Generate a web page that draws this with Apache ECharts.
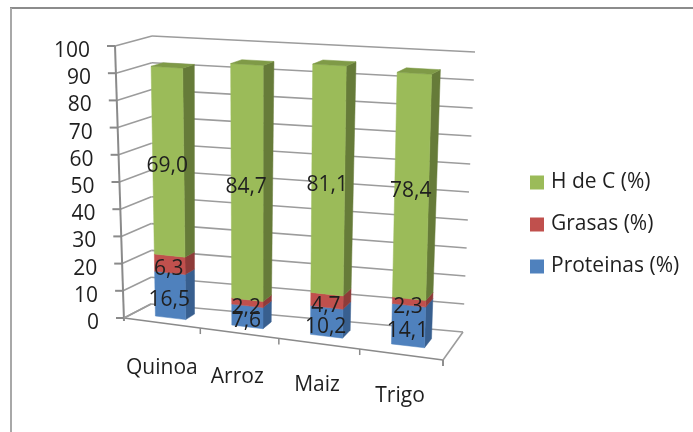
<!DOCTYPE html>
<html>
<head>
<meta charset="utf-8">
<style>html,body{margin:0;padding:0;background:#fff}#chart{width:693px;height:432px}</style>
<script src="https://cdn.jsdelivr.net/npm/echarts@6/dist/echarts.min.js"></script>
</head>
<body>
<div id="chart"></div>
<script>
// Composition of grains, drawn as 3D stacked columns.
const categories = ['Quinoa', 'Arroz', 'Maiz', 'Trigo'];
const proteinas = [16.5, 7.6, 10.2, 14.1];
const grasas = [6.3, 2.2, 4.7, 2.3];
const hidratos = [69.0, 84.7, 81.1, 78.4];
const yTicks = [0, 10, 20, 30, 40, 50, 60, 70, 80, 90, 100];

const FONT = '21px "Open Sans"';
const TEXT = '#1f1f1f';
const AXIS = '#8a8a8a';
const WALL = '#9c9c9c';

// Plot rectangle handed to ECharts; its pixels are re-projected onto the 3D box.
const L = 124, T = 46, W = 319, H = 272;
// Box corners as [x, y]: f/b = front/back, l/r = left/right, 0/1 = floor/ceiling.
const box = {
  fl0: [124, 318], fr0: [443, 360], fl1: [115, 46], fr1: [450, 65],
  bl0: [151, 304], br0: [463, 332], bl1: [152, 36], br1: [475, 52]
};
const mix = (a, b, k) => [a[0] + (b[0] - a[0]) * k, a[1] + (b[1] - a[1]) * k];

// Maps a plot pixel plus a depth (0 front, 1 back) to the screen.
function project(p, depth) {
  const u0 = (p[0] - L) / W;
  const u = u0 / (u0 + 1.06 * (1 - u0)); // perspective foreshortening along the floor
  const t = (T + H - p[1]) / H;
  const f = mix(mix(box.fl0, box.fr0, u), mix(box.fl1, box.fr1, u), t);
  const b = mix(mix(box.bl0, box.br0, u), mix(box.bl1, box.br1, u), t);
  return mix(f, b, depth);
}

const line = (a, b, color, width) => ({
  type: 'line',
  shape: { x1: a[0], y1: a[1], x2: b[0], y2: b[1] },
  style: { stroke: color, lineWidth: width }
});
const poly = (points, fill) => ({
  type: 'polygon',
  shape: { points },
  style: { fill, stroke: fill, lineWidth: 0.5 }
});
const label = (text, x, y, align) => ({
  type: 'text',
  z2: 50,
  style: { text, x, y, fill: TEXT, font: FONT, align: align || 'center', verticalAlign: 'middle' }
});

// Value axis: ticks, labels and gridlines on the left and back walls.
function renderValueTick(params, api) {
  const c = api.coord([0, api.value(1)]);
  const edge = [L, c[1]];
  const right = [L + W, c[1]];
  const front = project(edge, 0);
  const corner = project(edge, 1);
  const end = project(right, 1);
  return {
    type: 'group',
    children: [
      line(front, corner, WALL, 1.6),
      line(corner, end, WALL, 1.6),
      line([front[0] - 8, front[1]], front, AXIS, 2),
      label(String(api.value(1)), front[0] - 25, front[1] + 5, 'right')
    ]
  };
}

// Category axis: boundary ticks along the floor and the category names.
const categoryOffsets = [[0, 45], [-2, 44], [-2, 41], [-1, 42]];
function renderCategory(params, api) {
  const i = params.dataIndex;
  const c = api.coord([i, 0]);
  const band = api.size([1, 0])[0];
  const a = project([c[0] + band / 2, c[1]], 0);
  const children = [line(a, [a[0], a[1] + 6], AXIS, 1.5)];
  const mid = project(c, 0);
  children.push(label(categories[i], mid[0] + categoryOffsets[i][0], mid[1] + categoryOffsets[i][1]));
  return { type: 'group', children };
}

// Outline of the floor and the main axis line.
function renderFrame(params, api) {
  const o = api.coord([0, 0]);
  const top = api.coord([0, 100]);
  const bottom = o[1];
  const fl = project([L, bottom], 0);
  const fr = project([L + W, bottom], 0);
  const br = project([L + W, bottom], 1);
  return {
    type: 'group',
    children: [
      line(project([L, top[1]], 0), [fl[0], fl[1] + 3], AXIS, 2),
      line(fl, fr, AXIS, 1.6),
      line(fr, [fr[0], fr[1] + 6], AXIS, 1.6),
      line(fr, br, WALL, 1.6),
      line(fl, project([L, bottom], 1), WALL, 1.6)
    ]
  };
}

const DEPTH_FRONT = 0.33, DEPTH_BACK = 0.67;

// One stacked block of a column: front, side and, on the last block, the lid.
function blockRenderer(bases, sideColor, topColor) {
  return function (params, api) {
    const i = params.dataIndex;
    const base = bases[i];
    const value = api.value(1);
    const half = api.size([1, 0])[0] * 0.2;
    const p0 = api.coord([i, base]);
    const p1 = api.coord([i, base + value]);
    const pm = api.coord([i, base + value / 2]);
    const at = (p, dx, d) => project([p[0] + dx, p[1]], d);
    const children = [
      poly([at(p0, half, DEPTH_FRONT), at(p0, half, DEPTH_BACK), at(p1, half, DEPTH_BACK), at(p1, half, DEPTH_FRONT)], sideColor),
      poly([at(p0, -half, DEPTH_FRONT), at(p0, half, DEPTH_FRONT), at(p1, half, DEPTH_FRONT), at(p1, -half, DEPTH_FRONT)], api.visual('color'))
    ];
    if (topColor) {
      children.push(poly([at(p1, -half, DEPTH_FRONT), at(p1, half, DEPTH_FRONT), at(p1, half, DEPTH_BACK), at(p1, -half, DEPTH_BACK)], topColor));
    }
    const mid = at(pm, 0, DEPTH_FRONT);
    children.push(label(value.toFixed(1).replace('.', ','), mid[0] - 1, mid[1] + 5));
    return { type: 'group', children };
  };
}

const baseGrasas = proteinas.slice();
const baseHidratos = proteinas.map((v, i) => v + grasas[i]);
const pairs = values => values.map((v, i) => [i, v]);
const block = (name, values, bases, color, side, lid) => ({
  name,
  type: 'custom',
  coordinateSystem: 'cartesian2d',
  clip: false,
  z: 5,
  itemStyle: { color },
  renderItem: blockRenderer(bases, side, lid),
  data: pairs(values)
});
const furniture = (renderItem, data, z) => ({
  type: 'custom',
  coordinateSystem: 'cartesian2d',
  clip: false,
  silent: true,
  z,
  renderItem,
  data
});

const chart = echarts.init(document.getElementById('chart'), null, { renderer: 'canvas' });
chart.setOption({
  animation: false,
  backgroundColor: '#fff',
  grid: { left: L, top: T, width: W, height: H },
  xAxis: { type: 'category', data: categories, show: false },
  yAxis: { type: 'value', min: 0, max: 100, interval: 10, show: false },
  legend: {
    orient: 'vertical',
    left: 525,
    top: 167,
    icon: 'rect',
    itemWidth: 14,
    itemHeight: 14,
    itemGap: 21,
    itemStyle: { borderWidth: 0 },
    data: ['H de C (%)', 'Grasas (%)', 'Proteinas (%)'],
    textStyle: { color: TEXT, fontFamily: 'Open Sans', fontSize: 21, padding: [0, 0, 0, 2] }
  },
  graphic: [
    { type: 'line', shape: { x1: 10, y1: 8, x2: 693, y2: 8 }, style: { stroke: '#8c8c8c', lineWidth: 2 } },
    { type: 'line', shape: { x1: 11, y1: 8, x2: 11, y2: 432 }, style: { stroke: '#a8a8a8', lineWidth: 2 } }
  ],
  series: [
    furniture(renderValueTick, yTicks.map(v => [0, v]), 1),
    furniture(renderFrame, [[0, 0]], 2),
    furniture(renderCategory, categories.map((c, i) => [i, 0]), 3),
    block('Proteinas (%)', proteinas, [0, 0, 0, 0], '#4f81bd', '#385f8f', null),
    block('Grasas (%)', grasas, baseGrasas, '#c0504d', '#8e3b39', null),
    block('H de C (%)', hidratos, baseHidratos, '#9bbb59', '#667b39', '#7f9a47')
  ]
});
</script>
</body>
</html>
